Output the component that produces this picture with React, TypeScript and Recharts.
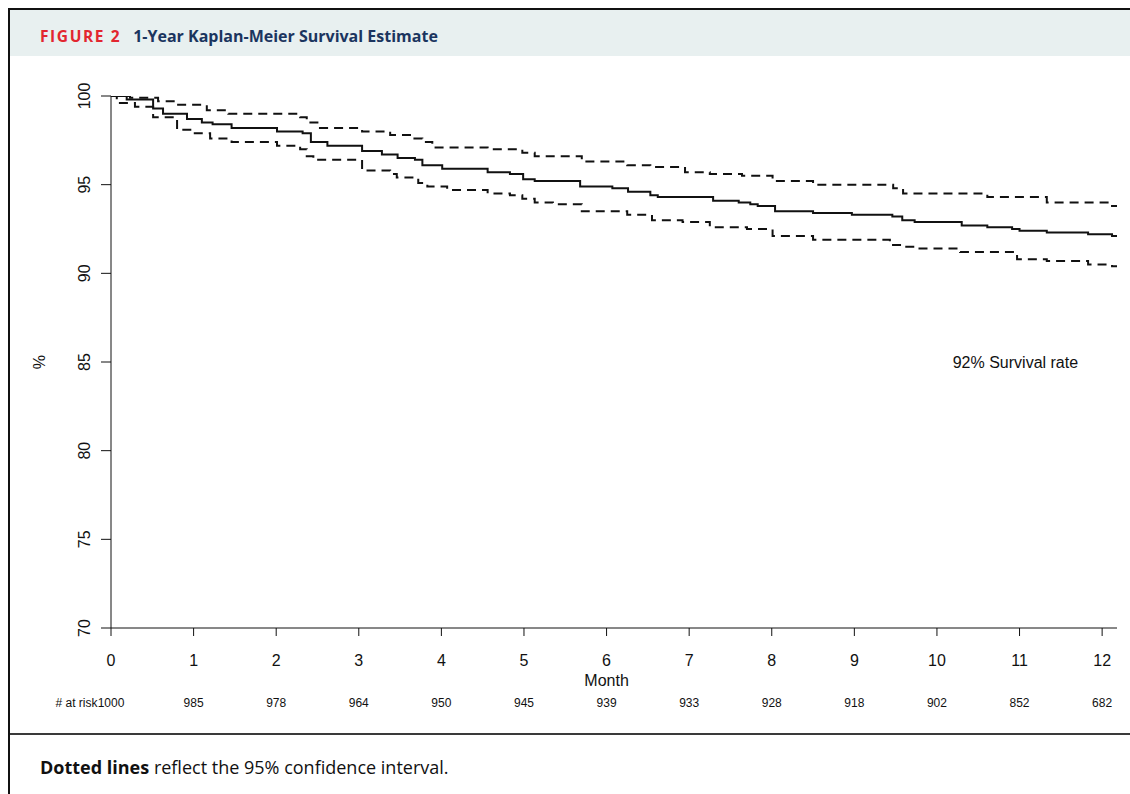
import { LineChart, Line, XAxis, YAxis, ReferenceDot } from "recharts";

// Kaplan-Meier estimate (solid) and 95% CI bounds (dashed)
const survMonths = [0, 0.19, 0.51, 0.63, 0.92, 1.1, 1.23, 1.46, 2.01, 2.32, 2.42, 2.62, 3.04, 3.28, 3.47, 3.68, 3.77, 4.01, 4.56, 4.83, 4.99, 5.13, 5.68, 6.07, 6.26, 6.53, 6.62, 7.29, 7.6, 7.74, 7.83, 8.04, 8.5, 8.97, 9.46, 9.58, 9.73, 10.3, 10.61, 10.91, 11.0, 11.33, 11.83, 12.12, 12.18];
const survValues = [100, 99.8, 99.3, 99.0, 98.7, 98.5, 98.4, 98.2, 98.0, 97.9, 97.4, 97.2, 96.9, 96.7, 96.5, 96.4, 96.1, 95.9, 95.7, 95.6, 95.3, 95.2, 94.9, 94.8, 94.6, 94.4, 94.3, 94.1, 94.0, 93.9, 93.8, 93.5, 93.4, 93.3, 93.2, 93.0, 92.9, 92.7, 92.6, 92.5, 92.4, 92.3, 92.2, 92.1, 92.1];

const upperMonths = [0, 0.23, 0.57, 0.8, 1.16, 1.42, 2.29, 2.37, 2.53, 3.04, 3.38, 3.66, 3.77, 3.89, 4.56, 4.98, 5.13, 5.7, 6.25, 6.53, 6.95, 7.25, 7.64, 8.01, 8.5, 9.47, 9.59, 10.61, 11.33, 12.12, 12.18];
const upperValues = [100, 99.9, 99.7, 99.5, 99.2, 99.0, 98.8, 98.5, 98.2, 98.0, 97.8, 97.6, 97.4, 97.1, 97.0, 96.8, 96.6, 96.3, 96.1, 96.0, 95.7, 95.6, 95.5, 95.2, 95.0, 94.8, 94.5, 94.3, 94.0, 93.8, 93.8];

const lowerMonths = [0, 0.07, 0.29, 0.51, 0.8, 0.99, 1.2, 1.46, 2.01, 2.29, 2.37, 2.45, 3.04, 3.38, 3.46, 3.72, 3.83, 4.07, 4.56, 4.83, 4.98, 5.13, 5.35, 5.7, 6.25, 6.55, 6.92, 7.25, 7.7, 8.01, 8.5, 9.43, 9.58, 9.76, 10.28, 10.97, 11.33, 11.83, 12.12, 12.18];
const lowerValues = [100, 99.6, 99.4, 98.8, 98.1, 97.9, 97.6, 97.4, 97.2, 97.0, 96.6, 96.4, 95.8, 95.6, 95.4, 95.1, 94.9, 94.7, 94.5, 94.4, 94.2, 94.0, 93.9, 93.5, 93.3, 93.0, 92.9, 92.6, 92.5, 92.1, 91.9, 91.6, 91.5, 91.4, 91.2, 90.8, 90.7, 90.5, 90.4, 90.4];

const monthTicks = [0, 1, 2, 3, 4, 5, 6, 7, 8, 9, 10, 11, 12];
const atRisk = [1000, 985, 978, 964, 950, 945, 939, 933, 928, 918, 902, 852, 682];
const pctTicks = [70, 75, 80, 85, 90, 95, 100];

const X_MAX = 12.18;
const INK = "#111";
const FONT = "'Liberation Sans', Arial, sans-serif";
const TEXT_FONT = "'Open Sans', 'Noto Sans', sans-serif";

const toSeries = (months: number[], values: number[]) =>
  months.map((m, i) => ({ month: m, pct: values[i] }));

const survData = toSeries(survMonths, survValues);
const upperData = toSeries(upperMonths, upperValues);
const lowerData = toSeries(lowerMonths, lowerValues);

const MonthTick = ({ x, y, payload }: any) => {
  const i = monthTicks.indexOf(payload.value);
  return (
    <g fontFamily={FONT}>
      <text x={x} y={y + 28} textAnchor="middle" fontSize={16} fill={INK}>
        {payload.value}
      </text>
      {i === 0 && (
        <text x={x - 13.5} y={y + 69} textAnchor="end" fontSize={12} fill={INK}>
          # at risk
        </text>
      )}
      <text x={x} y={y + 69} textAnchor="middle" fontSize={12} fill={INK}>
        {atRisk[i]}
      </text>
    </g>
  );
};

const PctTick = ({ x, y, payload }: any) => (
  <text
    x={x - 9}
    y={y}
    transform={`rotate(-90, ${x - 9}, ${y})`}
    textAnchor="middle"
    fontSize={16}
    fontFamily={FONT}
    fill={INK}
  >
    {payload.value}
  </text>
);

const PctLabel = ({ viewBox }: any) => {
  const cy = viewBox.y + viewBox.height / 2;
  return (
    <text x={45} y={cy} transform={`rotate(-90, 45, ${cy})`} textAnchor="middle" fontSize={16} fontFamily={FONT} fill={INK}>
      %
    </text>
  );
};

const MonthLabel = ({ viewBox }: any) => (
  <text
    x={viewBox.x + (6 / X_MAX) * viewBox.width}
    y={viewBox.y + 58}
    textAnchor="middle"
    fontSize={16}
    fontFamily={FONT}
    fill={INK}
  >
    Month
  </text>
);

const App = () => {
  return (
    <div>
      {/* frame */}
      <div style={{ position: "absolute", left: 8, top: 8, width: 1122, height: 786, boxSizing: "border-box", borderLeft: "2px solid #111", borderTop: "2px solid #111" }} />
      <div style={{ position: "absolute", left: 10, top: 10, width: 1120, height: 46, background: "#e8f0f0" }} />
      <div style={{ position: "absolute", left: 40, top: 25, fontFamily: TEXT_FONT, fontWeight: 700, whiteSpace: "nowrap", lineHeight: "22px" }}>
        <span style={{ color: "#e2262f", fontSize: 15.5, letterSpacing: 1.6 }}>FIGURE 2</span>
        <span style={{ color: "#1b355f", fontSize: 16, marginLeft: 12 }}>1-Year Kaplan-Meier Survival Estimate</span>
      </div>

      <div style={{ position: "absolute", left: 0, top: 60 }}>
        <LineChart width={1130} height={670} margin={{ top: 36, right: 13, bottom: 20, left: 0 }}>
          <XAxis
            type="number"
            dataKey="month"
            domain={[0, X_MAX]}
            ticks={monthTicks}
            allowDataOverflow
            height={82}
            tickSize={8}
            tickMargin={2}
            stroke={INK}
            tick={<MonthTick />}
            label={<MonthLabel />}
          />
          <YAxis
            type="number"
            domain={[70, 100]}
            ticks={pctTicks}
            allowDataOverflow
            width={111}
            tickSize={10}
            tickMargin={2}
            stroke={INK}
            tick={<PctTick />}
            label={<PctLabel />}
          />
          <Line data={upperData} dataKey="pct" type="stepAfter" stroke={INK} strokeWidth={2} strokeDasharray="9 6" dot={false} isAnimationActive={false} />
          <Line data={lowerData} dataKey="pct" type="stepAfter" stroke={INK} strokeWidth={2} strokeDasharray="9 6" dot={false} isAnimationActive={false} />
          <Line data={survData} dataKey="pct" type="stepAfter" stroke={INK} strokeWidth={2} dot={false} isAnimationActive={false} />
          <ReferenceDot
            x={10.95}
            y={85}
            r={0}
            fill="none"
            stroke="none"
            label={{ value: "92% Survival rate", position: "center", fontSize: 16, fill: INK, fontFamily: FONT }}
          />
        </LineChart>
      </div>

      <div style={{ position: "absolute", left: 10, top: 733, width: 1120, height: 2, background: "#3a3a3a" }} />
      <div style={{ position: "absolute", left: 40, top: 756, fontFamily: TEXT_FONT, fontSize: 18, color: "#111", whiteSpace: "nowrap", lineHeight: "22px" }}>
        <b>Dotted lines</b> reflect the 95% confidence interval.
      </div>
    </div>
  );
};

export default App;
